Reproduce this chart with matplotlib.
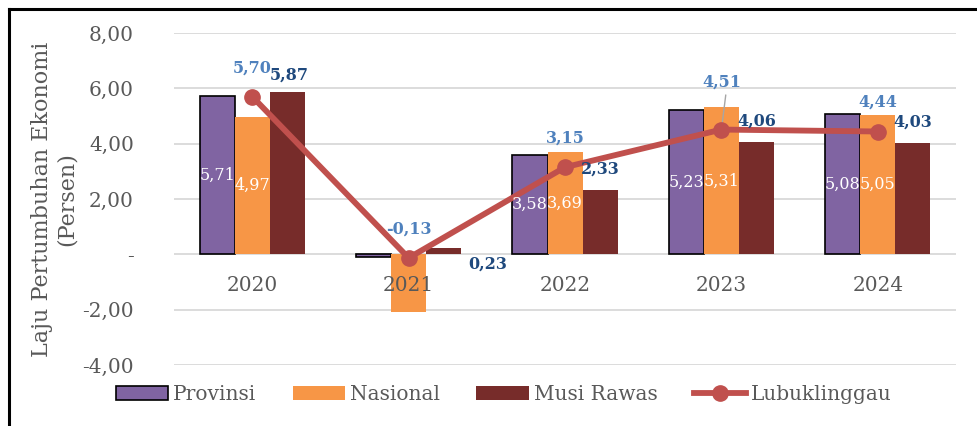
import numpy as np
import matplotlib
matplotlib.use("Agg")
import matplotlib.pyplot as plt
from matplotlib.lines import Line2D

plt.rcParams['font.family'] = ['DejaVu Serif']

## Data
years = ["2020", "2021", "2022", "2023", "2024"]
provinsi = [5.71, -0.11, 3.58, 5.23, 5.08]
nasional = [4.97, -2.07, 3.69, 5.31, 5.05]
musiRawas = [5.87, 0.23, 2.33, 4.06, 4.03]
lubuklinggau = [5.70, -0.13, 3.15, 4.51, 4.44]
yTicks = [-4, -2, 0, 2, 4, 6, 8]
yTickLabels = ["-4,00", "-2,00", "-", "2,00", "4,00", "6,00", "8,00"]

def fmt(v):
    return ("%.2f" % v).replace(".", ",")

gray = "#595959"
x = np.arange(len(years))
w = 0.224

fig = plt.figure(figsize=(9.78, 4.26), dpi=100)
ax = fig.add_axes([0.178, 0.1432, 0.7995, 0.7793])

b1 = ax.bar(x - w, provinsi, w, color="#8064A2", edgecolor="black", linewidth=1.2, zorder=3, label="Provinsi")
b2 = ax.bar(x, nasional, w, color="#F79646", zorder=3, label="Nasional")
b3 = ax.bar(x + w, musiRawas, w, color="#772C2A", zorder=3, label="Musi Rawas")
l1, = ax.plot(x, lubuklinggau, color="#C0504D", lw=4.2, marker="o", ms=11, zorder=5, label="Lubuklinggau")

ax.set_xlim(-0.5, 4.5)
ax.set_ylim(-4, 8)
ax.set_yticks(yTicks)
ax.set_yticklabels(yTickLabels, fontsize=14.5, color=gray)
ax.tick_params(axis="y", length=0, pad=29)
ax.set_xticks([])
ax.grid(axis="y", color="#D9D9D9", lw=1.3, zorder=0)
for s in ax.spines.values():
    s.set_visible(False)

# category labels sit just under zero
for i, yr in enumerate(years):
    ax.annotate(yr, (i, 0), xytext=(0, -31), textcoords="offset pixels",
                ha="center", va="center", fontsize=14.5, color=gray)

# white labels inside bars (2021 not shown)
for i in [0, 2, 3, 4]:
    ax.text(i - w, provinsi[i] / 2, fmt(provinsi[i]), ha="center", va="center", fontsize=11.5, color="white", zorder=6)
    ax.text(i, nasional[i] / 2, fmt(nasional[i]), ha="center", va="center", fontsize=11.5, color="white", zorder=6)

# Musi Rawas labels
mrOff = [(2, 17), (44, -16), (0, 21), (0, 21), (0, 21)]
for i, v in enumerate(musiRawas):
    ax.annotate(fmt(v), (i + w, max(v, 0)), xytext=mrOff[i], textcoords="offset pixels",
                ha="center", va="center", fontsize=11.5, fontweight="bold", color="#1F497D", zorder=6)

# Lubuklinggau labels
for i, v in enumerate(lubuklinggau):
    dy = 47 if i == 3 else 29
    ax.annotate(fmt(v), (i, v), xytext=(0, dy), textcoords="offset pixels",
                ha="center", va="center", fontsize=11.5, fontweight="bold", color="#4F81BD", zorder=6)
ax.annotate("", (x[3], lubuklinggau[3]), xytext=(x[3] + 0.03, lubuklinggau[3] + 1.35),
            arrowprops=dict(arrowstyle="-", color="#A6A6A6", lw=1), zorder=4)

ax.set_ylabel("Laju Pertumbuhan Ekonomi\n(Persen)", fontsize=16, color=gray)
ax.yaxis.set_label_coords(-0.123, 0.5)

leg = fig.legend([b1, b2, b3, l1], ["Provinsi", "Nasional", "Musi Rawas", "Lubuklinggau"],
                 loc="center", bbox_to_anchor=(0.515, 0.073), ncol=4, frameon=False,
                 fontsize=14.5, handlelength=2.6, handleheight=0.7, handletextpad=0.25, columnspacing=1.8)
for t in leg.get_texts():
    t.set_color(gray)

# outer border (top and left edges visible)
fig.add_artist(Line2D([9 / 978, 1], [1 - 9 / 426, 1 - 9 / 426], color="black", lw=2.2, transform=fig.transFigure))
fig.add_artist(Line2D([9 / 978, 9 / 978], [0, 1 - 9 / 426], color="black", lw=2.2, transform=fig.transFigure))

fig.savefig("out.png", dpi=100)
